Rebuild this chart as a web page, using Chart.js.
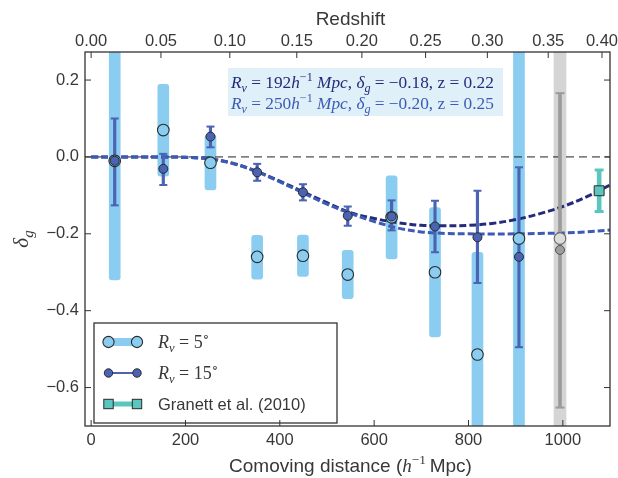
<!DOCTYPE html>
<html>
<head>
<meta charset="utf-8">
<script src="https://cdn.jsdelivr.net/npm/chart.js@4.4.1/dist/chart.umd.min.js"></script>
<style>
html,body{margin:0;padding:0;background:#fff;}
#wrap{width:618px;height:478px;}
</style>
</head>
<body>
<div id="wrap"><canvas id="c" width="618" height="478"></canvas></div>
<script>
// ---------------- data ----------------
const binDistance = [50, 153, 253, 352, 449, 544, 637, 729, 819, 907];
const rv5Delta = [-0.01, 0.07, -0.015, -0.26, -0.257, -0.306, -0.157, -0.30, -0.514, -0.212];
const rv5Hi    = [0.35, 0.189, 0.057, -0.204, -0.203, -0.243, -0.049, -0.132, -0.248, 0.35];
const rv5Lo    = [-0.32, -0.05, -0.086, -0.318, -0.311, -0.369, -0.265, -0.468, -0.75, -0.75];
const rv15Delta = [-0.01, -0.031, 0.053, -0.04, -0.092, -0.153, -0.155, -0.181, -0.209, -0.26];
const rv15Hi    = [0.10, 0.008, 0.079, -0.018, -0.071, -0.129, -0.113, -0.114, -0.088, -0.027];
const rv15Lo    = [-0.126, -0.073, 0.025, -0.062, -0.113, -0.179, -0.191, -0.248, -0.328, -0.495];

const grayDistance = [994];
const grayRv5Delta = [-0.212];
const grayRv5Hi = [0.35];
const grayRv5Lo = [-0.75];
const grayRv15Delta = [-0.242];
const grayRv15Hi = [0.166];
const grayRv15Lo = [-0.652];

const granettDistance = [1077];
const granettDelta = [-0.088];
const granettHi = [-0.034];
const granettLo = [-0.142];

const curveDistance = [0, 50, 100, 150, 200, 250, 300, 350, 400, 450, 500, 550, 600, 650, 700, 750, 800, 850, 900, 950, 1000, 1050, 1100];
const curveRv192 = [0, 0, 0, 0, -0.001, -0.005, -0.016, -0.037, -0.063, -0.091, -0.119, -0.145, -0.160, -0.171, -0.178, -0.179, -0.178, -0.173, -0.163, -0.148, -0.129, -0.104, -0.073];
const curveRv250 = [0, 0, 0, 0, -0.001, -0.005, -0.017, -0.038, -0.065, -0.094, -0.123, -0.147, -0.168, -0.185, -0.195, -0.199, -0.200, -0.2005, -0.200, -0.199, -0.198, -0.195, -0.190];

const distanceTicks = [0, 200, 400, 600, 800, 1000];
const redshiftTickDistance = [0, 148, 294, 436, 574, 709, 840, 969, 1083];
const redshiftTickLabels = ['0.00', '0.05', '0.10', '0.15', '0.20', '0.25', '0.30', '0.35', '0.40'];
const deltaTicks = [-0.6, -0.4, -0.2, 0.0, 0.2];

const annotRv = [192, 250];
const annotDelta = [-0.18, -0.20];
const annotZ = [0.22, 0.25];
const legendRv = [5, 15];
const legendRef = 'Granett et al. (2010)';

// ---------------- styling ----------------
const SANS = "'Liberation Sans', Arial, sans-serif";
const SERIF = "'Liberation Serif', 'DejaVu Serif', serif";
const X_MIN = -13, X_MAX = 1100, Y_MIN = -0.70, Y_MAX = 0.273;
const COL = {
  light: '#8acdf0', dark: '#4a63b3', navy: '#232b7c', mid: '#3d5bb6',
  grayBar: '#d5d5d5', grayErr: '#9b9b9b', grayPt: '#9d9d9d', grayOpen: '#dddddd',
  teal: '#5cc6be', edge: '#2a2a2a', text: '#383838'
};
Chart.defaults.font.family = SANS;
Chart.defaults.font.size = 16;
Chart.defaults.color = COL.text;

const pts = (xs, ys) => xs.map((x, i) => ({x, y: ys[i]}));
const ranges = (xs, lo, hi) => xs.map((x, i) => ({x, y: [lo[i], hi[i]]}));
const caps = (xs, lo, hi) => xs.flatMap((x, i) => [{x, y: hi[i]}, {x, y: lo[i]}]);
const minus = (v, d) => (v < 0 ? '\u2212' : '') + Math.abs(v).toFixed(d);

function floatBar(data, color, thick, order, radius) {
  return {type: 'bar', data, backgroundColor: color, barThickness: thick, grouped: false,
          borderSkipped: false, borderRadius: radius || 0, borderWidth: 0, order};
}
function marker(data, fill, stroke, radius, style, bw, order) {
  return {type: 'scatter', data, pointBackgroundColor: fill, pointBorderColor: stroke,
          pointRadius: radius, pointStyle: style, pointBorderWidth: bw, order, showLine: false};
}

const datasets = [
  marker(pts(binDistance, rv15Delta), COL.dark, COL.edge, 4.5, 'circle', 1, 0),
  marker(pts(grayDistance, grayRv15Delta), COL.grayPt, '#555', 4.5, 'circle', 1, 0),
  marker(pts(granettDistance, granettDelta), COL.teal, COL.edge, 7, 'rect', 1, 0),
  marker(pts(binDistance, rv5Delta), COL.light, COL.edge, 5.8, 'circle', 1.1, 1),
  marker(pts(grayDistance, grayRv5Delta), COL.grayOpen, '#666', 5.8, 'circle', 1.1, 1),
  marker(caps(binDistance, rv15Lo, rv15Hi), COL.dark, COL.dark, 4, 'line', 2, 2),
  marker(caps(grayDistance, grayRv15Lo, grayRv15Hi), COL.grayErr, COL.grayErr, 4.5, 'line', 2, 2),
  marker(caps(granettDistance, granettLo, granettHi), COL.teal, COL.teal, 4.5, 'line', 3, 2),
  floatBar(ranges(binDistance, rv15Lo, rv15Hi), COL.dark, 2.5, 3),
  floatBar(ranges(grayDistance, grayRv15Lo, grayRv15Hi), COL.grayErr, 3, 3),
  floatBar(ranges(granettDistance, granettLo, granettHi), COL.teal, 4, 3),
  {type: 'line', data: pts(curveDistance, curveRv250), borderColor: COL.mid, borderWidth: 3,
   borderDash: [7, 3], pointRadius: 0, tension: 0.35, fill: false, order: 4},
  {type: 'line', data: pts(curveDistance, curveRv192), borderColor: COL.navy, borderWidth: 3,
   borderDash: [7, 3], pointRadius: 0, tension: 0.35, fill: false, order: 4},
  {type: 'line', data: pts([X_MIN, X_MAX], [0, 0]), borderColor: '#222', borderWidth: 1,
   borderDash: [8, 5], pointRadius: 0, fill: false, order: 5},
  floatBar(ranges(binDistance, rv5Lo, rv5Hi), COL.light, 11, 6, 3),
  floatBar(ranges(grayDistance, grayRv5Lo, grayRv5Hi), COL.grayBar, 12, 6, 2)
];

// ---------------- text helpers ----------------
function runsWidth(ctx, runs) {
  let w = 0;
  runs.forEach(r => { ctx.font = r.f; r.w = ctx.measureText(r.t).width; w += r.w; });
  return w;
}
function drawRuns(ctx, runs, x, y, align) {
  const w = runsWidth(ctx, runs);
  let cx = align === 'center' ? x - w / 2 : x;
  ctx.textAlign = 'left';
  ctx.textBaseline = 'alphabetic';
  runs.forEach(r => { ctx.font = r.f; ctx.fillText(r.t, cx, y + (r.dy || 0)); cx += r.w; });
  return w;
}
const itS = s => `italic ${s}px ${SERIF}`;
const rmS = s => `${s}px ${SERIF}`;
function annotRuns(i, s) {
  return [
    {t: 'R', f: itS(s)}, {t: 'v', f: itS(s * 0.7), dy: s * 0.22},
    {t: ' = ', f: rmS(s)}, {t: String(annotRv[i]), f: rmS(s)},
    {t: 'h', f: itS(s)}, {t: '\u22121', f: rmS(s * 0.7), dy: -s * 0.4},
    {t: ' Mpc', f: itS(s)}, {t: ', ', f: rmS(s)},
    {t: '\u03b4', f: itS(s)}, {t: 'g', f: itS(s * 0.7), dy: s * 0.22},
    {t: ' = ', f: rmS(s)}, {t: minus(annotDelta[i], 2), f: rmS(s)},
    {t: ', z = ' + annotZ[i].toFixed(2), f: rmS(s)}
  ];
}

const decor = {
  id: 'decor',
  beforeDraw(chart) {
    const ctx = chart.ctx;
    ctx.save(); ctx.fillStyle = '#fff'; ctx.fillRect(0, 0, chart.width, chart.height); ctx.restore();
  },
  afterDatasetsDraw(chart) {
    const ctx = chart.ctx, a = chart.chartArea, sx = chart.scales.x, sx2 = chart.scales.x2, sy = chart.scales.y;
    ctx.save();
    const bx = 228, by = 68, bw = 275, bh = 48;
    ctx.fillStyle = '#dff0f8';
    ctx.fillRect(bx, by, bw, bh);
    const colors = [COL.navy, COL.mid];
    [0, 1].forEach(i => {
      let s = 16;
      const w = runsWidth(ctx, annotRuns(i, s));
      s = s * 263 / w;
      ctx.fillStyle = colors[i];
      drawRuns(ctx, annotRuns(i, s), bx + 3, by + 20 + i * 21, 'left');
    });
    // legend
    const lx = a.left + 9, ly = a.bottom - 103, lw = 243, lh = 100;
    ctx.fillStyle = '#fff';
    ctx.fillRect(lx, ly, lw, lh);
    ctx.strokeStyle = '#333'; ctx.lineWidth = 1.3;
    ctx.strokeRect(lx, ly, lw, lh);
    const m1 = lx + 14.5, m2 = lx + 43, tx = lx + 64;
    const rows = [ly + 19, ly + 50, ly + 81];
    ctx.fillStyle = COL.light;
    ctx.fillRect(m1 - 5, rows[0] - 4, m2 - m1 + 10, 8);
    [m1, m2].forEach(x => {
      ctx.beginPath(); ctx.arc(x, rows[0], 5.6, 0, Math.PI * 2);
      ctx.fillStyle = COL.light; ctx.fill(); ctx.strokeStyle = COL.edge; ctx.lineWidth = 1.1; ctx.stroke();
    });
    ctx.strokeStyle = COL.dark; ctx.lineWidth = 2;
    ctx.beginPath(); ctx.moveTo(m1, rows[1]); ctx.lineTo(m2, rows[1]); ctx.stroke();
    [m1, m2].forEach(x => {
      ctx.beginPath(); ctx.arc(x, rows[1], 4.2, 0, Math.PI * 2);
      ctx.fillStyle = COL.dark; ctx.fill(); ctx.strokeStyle = COL.edge; ctx.lineWidth = 1; ctx.stroke();
    });
    ctx.fillStyle = COL.teal;
    ctx.fillRect(m1, rows[2] - 2.5, m2 - m1, 5);
    [m1, m2].forEach(x => {
      ctx.fillStyle = COL.teal; ctx.fillRect(x - 4.7, rows[2] - 4.7, 9.4, 9.4);
      ctx.strokeStyle = COL.edge; ctx.lineWidth = 1; ctx.strokeRect(x - 4.7, rows[2] - 4.7, 9.4, 9.4);
    });
    ctx.fillStyle = COL.text;
    legendRv.forEach((v, i) => {
      const s = 18;
      drawRuns(ctx, [
        {t: 'R', f: itS(s)}, {t: 'v', f: itS(s * 0.7), dy: s * 0.22},
        {t: ' = ', f: rmS(s)}, {t: String(v), f: rmS(s)},
        {t: '\u2218', f: rmS(s * 0.75), dy: -s * 0.4}
      ], tx, rows[i] + 6, 'left');
    });
    ctx.font = `16.5px ${SANS}`;
    ctx.textAlign = 'left'; ctx.textBaseline = 'alphabetic';
    ctx.fillText(legendRef, tx, rows[2] + 6);

    ctx.strokeStyle = '#333'; ctx.lineWidth = 1.3;
    ctx.strokeRect(a.left, a.top, a.right - a.left, a.bottom - a.top);
    ctx.lineWidth = 1;
    const L = 6;
    ctx.beginPath();
    sx.ticks.forEach(t => { const p = sx.getPixelForValue(t.value); ctx.moveTo(p, a.bottom); ctx.lineTo(p, a.bottom - L); });
    sx2.ticks.forEach(t => { const p = sx2.getPixelForValue(t.value); ctx.moveTo(p, a.top); ctx.lineTo(p, a.top + L); });
    sy.ticks.forEach(t => {
      const p = sy.getPixelForValue(t.value);
      ctx.moveTo(a.left, p); ctx.lineTo(a.left + L, p);
      ctx.moveTo(a.right, p); ctx.lineTo(a.right - L, p);
    });
    ctx.stroke();
    ctx.restore();
  },
  afterDraw(chart) {
    const ctx = chart.ctx, a = chart.chartArea;
    const cx = (a.left + a.right) / 2;
    ctx.save();
    ctx.fillStyle = COL.text;
    ctx.textAlign = 'center'; ctx.textBaseline = 'alphabetic';
    ctx.font = `19px ${SANS}`;
    ctx.fillText('Redshift', cx + 3, 25);
    const s = 19;
    drawRuns(ctx, [
      {t: 'Comoving distance (', f: `${s}px ${SANS}`},
      {t: 'h', f: itS(s)}, {t: '\u22121', f: rmS(s * 0.7), dy: -s * 0.4},
      {t: '\u2009Mpc)', f: `${s}px ${SANS}`}
    ], cx + 3, 472, 'center');
    ctx.translate(22, (a.top + a.bottom) / 2);
    ctx.rotate(-Math.PI / 2);
    drawRuns(ctx, [
      {t: '\u03b4', f: itS(21)}, {t: 'g', f: itS(15), dy: 5}
    ], 0, 6, 'center');
    ctx.restore();
  }
};

function fixWidth(w) { return ax => { ax.width = w; ax.paddingLeft = 0; ax.paddingRight = 0; ax.paddingTop = 0; ax.paddingBottom = 0; }; }
function fixHeight(h) { return ax => { ax.height = h; ax.paddingLeft = 0; ax.paddingRight = 0; ax.paddingTop = 0; ax.paddingBottom = 0; }; }

new Chart(document.getElementById('c'), {
  type: 'scatter',
  data: {datasets},
  plugins: [decor],
  options: {
    responsive: false,
    animation: false,
    events: [],
    layout: {padding: {left: 0, right: 6, top: 0, bottom: 0}},
    plugins: {legend: {display: false}, tooltip: {enabled: false}, title: {display: false}},
    scales: {
      x: {
        type: 'linear', position: 'bottom', min: X_MIN, max: X_MAX, offset: false,
        grid: {display: false, drawTicks: false}, border: {display: false},
        afterBuildTicks: ax => { ax.ticks = distanceTicks.map(v => ({value: v})); },
        afterFit: fixHeight(52),
        ticks: {padding: 5, autoSkip: false, maxRotation: 0, font: {size: 16.5}, color: COL.text,
                callback: v => String(v)}
      },
      x2: {
        type: 'linear', position: 'top', min: X_MIN, max: X_MAX, offset: false,
        grid: {display: false, drawTicks: false}, border: {display: false},
        afterBuildTicks: ax => { ax.ticks = redshiftTickDistance.map(v => ({value: v})); },
        afterFit: fixHeight(52),
        ticks: {padding: 1, autoSkip: false, maxRotation: 0, font: {size: 16.5}, color: COL.text,
                callback: (v, i) => redshiftTickLabels[i]}
      },
      y: {
        type: 'linear', position: 'left', min: Y_MIN, max: Y_MAX,
        grid: {display: false, drawTicks: false}, border: {display: false},
        afterBuildTicks: ax => { ax.ticks = deltaTicks.map(v => ({value: v})); },
        afterFit: fixWidth(85),
        ticks: {padding: 6, autoSkip: false, font: {size: 16.5}, color: COL.text,
                callback: v => minus(v, 1)}
      }
    }
  }
});
</script>
</body>
</html>
